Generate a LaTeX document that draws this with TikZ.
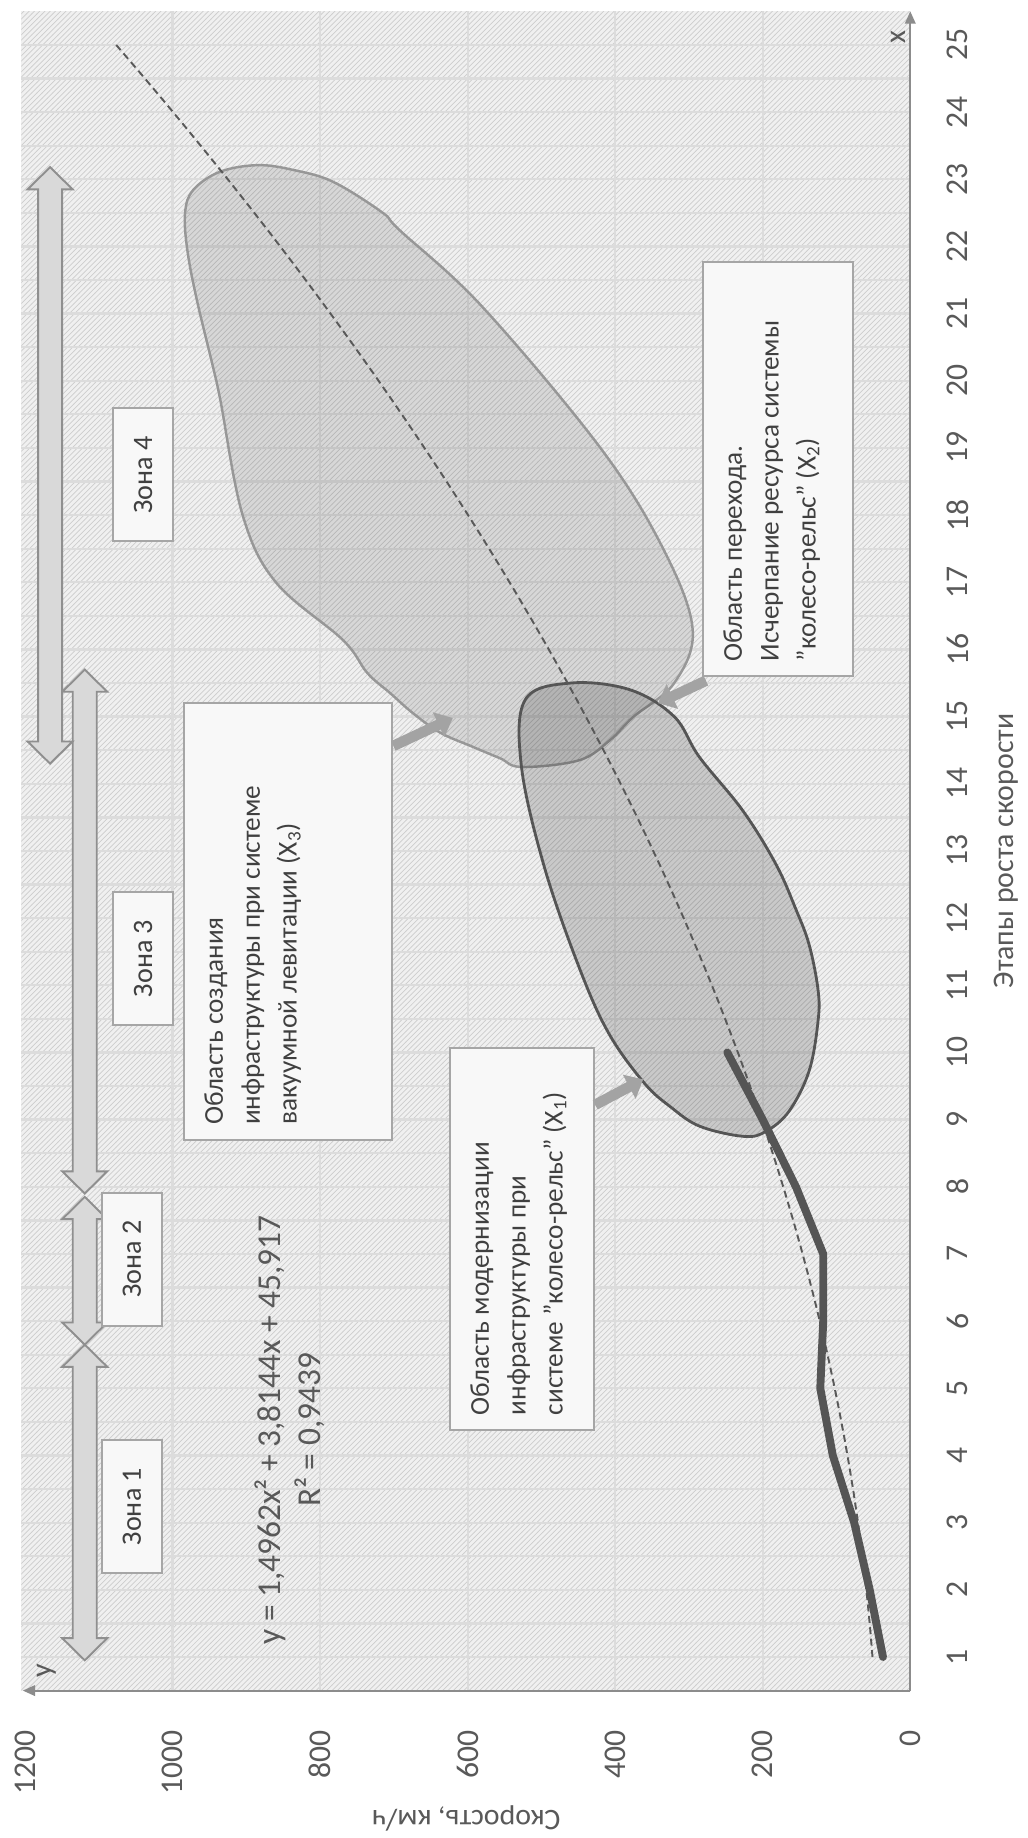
\documentclass[tikz,border=0pt]{standalone}
\usepackage{fontspec}
\setmainfont{Carlito}
\usetikzlibrary{arrows.meta,patterns,calc}
\definecolor{ink}{HTML}{404040}
\definecolor{inkgray}{HTML}{595959}
\definecolor{axisgray}{HTML}{8C8C8C}
\definecolor{gridgray}{HTML}{DCDCDC}
\definecolor{hatchgray}{HTML}{CDCDCD}
\definecolor{plotbg}{HTML}{F0F0F0}
\definecolor{arrowfill}{HTML}{D9D9D9}
\definecolor{arrowline}{HTML}{8F8F8F}
\definecolor{callgray}{HTML}{A3A3A3}
\definecolor{boxline}{HTML}{A6A6A6}
\definecolor{boxfill}{HTML}{F8F8F8}
\definecolor{blobdark}{HTML}{555555}
\definecolor{bloblight}{HTML}{979797}
\tikzset{
  notebox/.style={draw=boxline, fill=boxfill, line width=1.1pt,
                  inner xsep=0.3cm, inner ysep=0.4cm,
                  font=\fontsize{15.5}{21}\selectfont, text=ink},
  zonebox/.style={draw=boxline, fill=boxfill, line width=1.1pt,
                  minimum width=2.66cm, minimum height=1.2cm, inner sep=0pt,
                  font=\fontsize{16}{19}\selectfont, text=ink},
  zonearr/.style={draw=arrowline, fill=arrowfill, line width=1.1pt},
  callarr/.style={-{Triangle[length=9pt,width=15pt]}, line width=6pt, color=callgray},
  ticklab/.style={font=\fontsize{18}{21}\selectfont, text=inkgray},
  axlab/.style={font=\fontsize{17}{20}\selectfont, text=inkgray},
  eqlab/.style={font=\fontsize{19}{22.7}\selectfont, text=inkgray, align=center},
  axline/.style={-{Triangle[length=7pt,width=6pt]}, line width=1.1pt, color=axisgray},
  gridline/.style={line width=1.3pt, color=gridgray},
  darkblob/.style={draw=blobdark, line width=1.6pt, fill=black, fill opacity=0.16},
  lightblob/.style={draw=bloblight, line width=1.4pt, fill=black, fill opacity=0.10},
  trendline/.style={dash pattern=on 4pt off 2.5pt, line width=1.1pt, color=inkgray},
  dataline/.style={line width=4.5pt, color=blobdark, line cap=round, line join=round}
}
% block arrow of a zone: from stage #1 to stage #2 at speed #3
\newcommand{\zonearrow}[3]{%
  \draw[zonearr] (#1,#3) -- ({#1+0.33},{#3+30.5}) -- ({#1+0.33},{#3+16.3})
    -- ({#2-0.33},{#3+16.3}) -- ({#2-0.33},{#3+30.5}) -- (#2,#3)
    -- ({#2-0.33},{#3-30.5}) -- ({#2-0.33},{#3-16.3}) -- ({#1+0.33},{#3-16.3})
    -- ({#1+0.33},{#3-30.5}) -- cycle;}
\newcommand{\notetext}[3]{\parbox[t][#2][t]{#1}{\raggedright #3}}

\begin{document}
\begin{tikzpicture}[rotate=90, transform shape, x=1.3434cm, y=0.01475cm]
  \useasboundingbox (-1.6947,-158.64) rectangle (25.669,1233.9);
  \fill[white] (-1.6947,-158.64) rectangle (25.669,1233.9);
  % plot area
  \fill[plotbg] (0.5,0) rectangle (25.5,1205);
  \fill[pattern=north east lines, pattern color=hatchgray] (0.5,0) rectangle (25.5,1205);
  \foreach \stg in {1,1.5,...,25} \draw[gridline] (\stg,0) -- (\stg,1205);
  \foreach \spd in {200,400,...,1000} \draw[gridline] (0.5,\spd) -- (25.5,\spd);
  \draw[axline] (0.5,0) -- (25.5,0);
  \draw[axline] (0.5,0) -- (0.5,1203);

  % regions
  \draw[lightblob] plot[smooth cycle, tension=0.6] coordinates {
    (14.25,527) (14.38,556) (14.55,593) (14.76,637) (15.05,674) (15.35,705)
    (15.65,736) (16.14,769) (17.0,860) (18.0,905) (19.7,935) (20.2,945)
    (21.2,967) (21.95,980) (22.5,983) (22.84,972) (23.11,936) (23.21,885)
    (23.14,837) (22.96,782) (22.5,715) (22.24,692) (21.1,580) (19.0,420)
    (17.5,335) (16.3,295) (15.5,320) (15.0,375) (14.65,407) (14.35,449)};
  \draw[darkblob] plot[smooth cycle, tension=0.6] coordinates {
    (8.75,225) (8.9,285) (9.19,325) (9.55,361) (10.29,409) (11.27,449)
    (12.76,496) (14.25,527) (15.25,522) (15.5,460) (15.4,380) (15.0,320)
    (14.4,286) (13.6,227) (12.8,182) (12.13,155) (11.6,137) (10.93,125)
    (10.47,125) (9.73,137) (9.13,164) (8.83,195)};

  \draw[trendline] plot[domain=1:25, samples=60] (\x, {1.4962*\x*\x + 3.8144*\x + 45.917});
  \draw[dataline] (1,37) -- (2,55) -- (3,76) -- (4,105) -- (5,122) -- (6,118)
    -- (7,118) -- (8,155) -- (9,200) -- (10,248);

  % zones
  \zonearrow{0.95}{5.65}{1119}
  \zonearrow{5.65}{7.85}{1119}
  \zonearrow{7.9}{15.7}{1119}
  \zonearrow{14.3}{23.18}{1166}
  \node[zonebox] (zone1) at (3.24,1055) {Зона 1};
  \node[zonebox] (zone2) at (6.92,1055) {Зона 2};
  \node[zonebox] (zone3) at (11.4,1040) {Зона 3};
  \node[zonebox] (zone4) at (18.6,1040) {Зона 4};

  \node[eqlab] (trend) at (4.38,841) {y = 1,4962x² + 3,8144x + 45,917\\R² = 0,9439};

  % notes
  \node[notebox] (modern) at (7.22,526) {\notetext{7.04cm}{2.08cm}{Область модернизации\\
    инфраструктуры при\\ системе "колесо-рельс" (X\textsubscript{1})}};
  \node[notebox] (crea) at (11.95,843) {\notetext{8.14cm}{3.36cm}{Область создания\\
    инфраструктуры при системе\\ вакуумной левитации (X\textsubscript{3})}};
  \node[notebox] (trans) at (18.685,179) {\notetext{7.69cm}{2.2cm}{Область перехода.\\
    Исчерпание ресурса системы\\ "колесо-рельс" (X\textsubscript{2})}};

  \coordinate (tipmod) at (9.6,362);
  \coordinate (tipcrea) at (14.98,620);
  \coordinate (tiptrans) at (15.2,342);
  \draw[callarr] ($(modern.south west)!0.85!(modern.south east)$) -- (tipmod);
  \draw[callarr] ($(crea.south west)!0.9!(crea.south east)$) -- (tipcrea);
  \draw[callarr] ($(trans.north west)+(-0.05,-5)$) -- (tiptrans);

  % axis labels
  \foreach \stg in {1,...,25} \node[ticklab] (stage\stg) at (\stg,-64) {\stg};
  \foreach \spd in {0,200,...,1200} \node[ticklab, anchor=east] (speed\spd) at (0,\spd) {\spd};
  \node[axlab] (xtitle) at (13.0,-130) {Этапы роста скорости};
  \node[axlab, rotate=90] (ytitle) at (-1.40,602) {Скорость, км/ч};
  \node[axlab] (xname) at (25.12,16) {x};
  \node[axlab] (yname) at (0.79,1170) {y};
\end{tikzpicture}
\end{document}
